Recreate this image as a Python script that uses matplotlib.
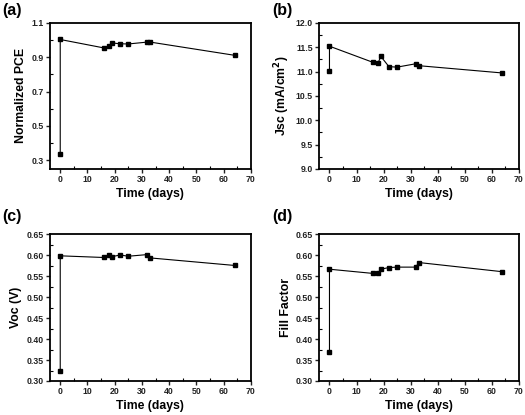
import matplotlib.pyplot as plt
from matplotlib.ticker import MultipleLocator, FormatStrFormatter

plt.rcParams['font.family'] = ['Liberation Sans', 'DejaVu Sans']
plt.rcParams['font.weight'] = 'bold'

# time points (days); first two points are both at day 0
days = [0, 0, 16, 18, 19, 22, 25, 32, 33, 64]

pce = [0.337, 1.003, 0.954, 0.964, 0.983, 0.978, 0.977, 0.988, 0.988, 0.911]
jsc = [11.01, 11.52, 11.19, 11.18, 11.31, 11.10, 11.09, 11.16, 11.12, 10.97]
voc = [0.324, 0.599, 0.595, 0.602, 0.597, 0.601, 0.598, 0.602, 0.594, 0.576]
ff = [0.370, 0.567, 0.557, 0.557, 0.567, 0.571, 0.572, 0.572, 0.583, 0.561]

fig = plt.figure(figsize=(5.25, 4.15), dpi=100)

panels = [
    # rect, data, ylabel, ylim, major, minor, fmt, tag, tag y
    ([0.095, 0.593, 0.383, 0.352], pce, 'Normalized PCE', (0.25, 1.1), 0.2, 0.1, '%.1f', '(a)', 0.993),
    ([0.608, 0.593, 0.380, 0.352], jsc, 'Jsc (mA/cm$^\\mathbf{2}$)', (9.0, 12.0), 0.5, 0.25, '%.1f', '(b)', 0.993),
    ([0.095, 0.082, 0.383, 0.353], voc, 'Voc (V)', (0.30, 0.65), 0.05, 0.025, '%.2f', '(c)', 0.497),
    ([0.608, 0.082, 0.380, 0.353], ff, 'Fill Factor', (0.30, 0.65), 0.05, 0.025, '%.2f', '(d)', 0.497),
]

for rect, vals, ylab, ylim, maj, mnr, fmt, tag, ty in panels:
    ax = fig.add_axes(rect)
    ax.plot(days, vals, color='black', lw=0.8, marker='s', ms=3.2)
    ax.set_xlim(-3.8, 70)
    ax.set_ylim(*ylim)
    if tag == '(a)':
        ax.set_yticks([0.3, 0.5, 0.7, 0.9, 1.1])
    else:
        ax.yaxis.set_major_locator(MultipleLocator(maj))
    ax.yaxis.set_minor_locator(MultipleLocator(mnr))
    ax.yaxis.set_major_formatter(FormatStrFormatter(fmt))
    ax.xaxis.set_major_locator(MultipleLocator(10))
    ax.xaxis.set_minor_locator(MultipleLocator(5))
    ax.tick_params(which='major', direction='out', length=3, width=1,
                   labelsize=6.3, pad=1.5, colors='#222222')
    ax.tick_params(which='minor', direction='in', length=2, width=0.8)
    for lbl in ax.get_xticklabels() + ax.get_yticklabels():
        lbl.set_fontweight('bold')
    for sp in ax.spines.values():
        sp.set_linewidth(1.3)
    ax.set_xlabel('Time (days)', fontsize=8.8, fontweight='bold', labelpad=3)
    ax.set_ylabel(ylab, fontsize=8.8, fontweight='bold', labelpad=3)
    x0 = rect[0] - 0.09
    fig.text(x0, ty, tag, fontsize=11.5, fontweight='bold', ha='left', va='top')

fig.savefig('out.png', dpi=100)
